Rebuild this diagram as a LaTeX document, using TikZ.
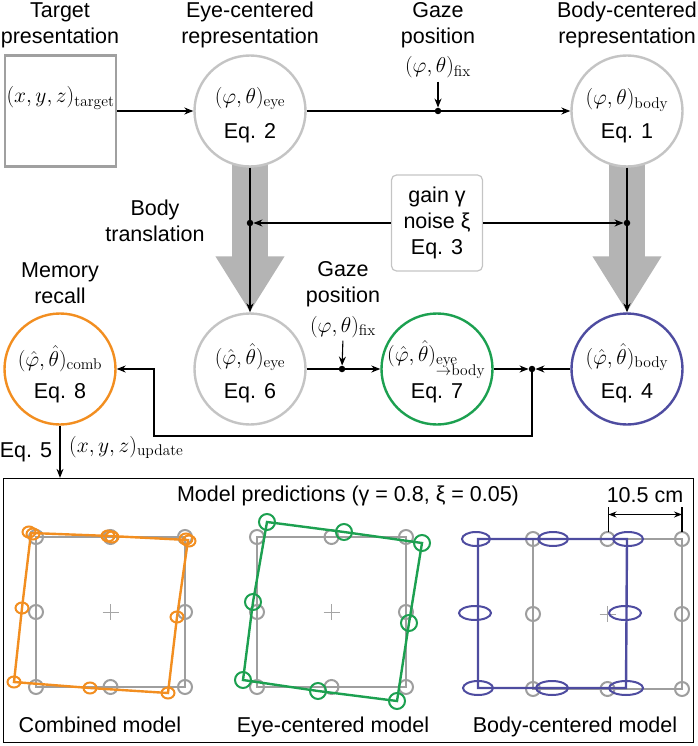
\RequirePackage{fix-cm}
\documentclass[tikz,border=0pt]{standalone}
\usepackage[no-math]{fontspec}
\setmainfont{Liberation Sans}
\usetikzlibrary{arrows.meta,backgrounds,calc}
\DeclareMathSizes{21.5}{21.5}{15.5}{11}
\definecolor{ringgray}{RGB}{196,196,196}
\definecolor{boxgray}{RGB}{160,160,160}
\definecolor{fatgray}{RGB}{180,180,180}
\definecolor{ptgray}{RGB}{158,158,158}
\definecolor{xgray}{RGB}{165,165,165}
\definecolor{orng}{RGB}{242,142,32}
\definecolor{grn}{RGB}{28,160,80}
\definecolor{blu}{RGB}{78,76,160}
\newcommand\refgrid[2]{%
  \draw[refsq] (#1,#2) rectangle ++(149,150);
  \foreach \dx/\dy in {0/0,74.5/0,149/0,0/75,149/75,0/150,74.5/150,149/150}
    \draw[refpt] (#1+\dx,#2+\dy) circle[radius=7pt];
  \draw[cross] (#1+66.5,#2+75) -- ++(16,0) (#1+74.5,#2+67) -- ++(0,16);
}
\begin{document}
\begin{tikzpicture}[x=1pt,y=-1pt,
 lbl/.style={font=\fontsize{21.5}{26}\selectfont, align=center, inner sep=0pt},
 mth/.style={font=\fontsize{21.5}{24}\selectfont, inner sep=0pt},
 ring/.style={circle, draw=ringgray, line width=2.4pt, minimum size=111pt, inner sep=0pt, fill=white},
 conn/.style={line width=1.1pt, -{Stealth[length=9pt,width=7pt]}},
 plainln/.style={line width=1.1pt},
 dot/.style={circle, fill=black, inner sep=0pt, minimum size=6.5pt},
 fat/.style={draw=fatgray, line width=36pt, -{Triangle[length=56pt,width=65pt]}},
 refsq/.style={draw=ptgray, line width=2.4pt},
 refpt/.style={draw=ptgray, line width=2pt},
 cross/.style={draw=xgray, line width=0.9pt},
 orpt/.style={draw=orng, line width=2pt},
 grpt/.style={draw=grn, line width=2pt},
 blpt/.style={draw=blu, line width=2pt},
]
\useasboundingbox (0,0) rectangle (697,746);

% ---------- top row ----------
\node[lbl] (tgtlbl) at (60,25) {Target\\presentation};
\node[lbl] (eyelbl) at (250,25) {Eye-centered\\representation};
\node[lbl] (gazelbl) at (438,25) {Gaze\\position};
\node[lbl] (bodylbl) at (627,25) {Body-centered\\representation};

\node[draw=boxgray, line width=2.4pt, minimum width=111pt, minimum height=111pt, inner sep=0pt] (tgt) at (60.5,111) {};
\node[mth, anchor=base] (tgtm) at (60.5,103) {$(x,y,z)_{\mathrm{target}}$};

\node[ring] (eye) at (250,111) {};
\node[mth, anchor=base] (eyem) at (250,103.5) {$(\varphi,\theta)_{\mathrm{eye}}$};
\node[lbl, anchor=base] (eyeq) at (250,139) {Eq. 2};

\node[ring] (body) at (627,111) {};
\node[mth, anchor=base] (bodym) at (627,105) {$(\varphi,\theta)_{\mathrm{body}}$};
\node[lbl, anchor=base] (bodyq) at (627,139) {Eq. 1};

\node[mth, anchor=base] (fix1) at (438,73) {$(\varphi,\theta)_{\mathrm{fix}}$};
\node[dot] (d1) at (438,111) {};
\draw[conn] (tgt) -- (eye);
\draw[plainln] (eye) -- (d1);
\draw[conn] (d1) -- (body);
\draw[conn, shorten <=3pt] (fix1.south) -- (d1);

% ---------- middle ----------
\node[lbl] (btlbl) at (155,221) {Body\\translation};
\node[draw=ringgray, line width=1.2pt, rounded corners=5pt, minimum width=91pt, minimum height=96pt, lbl] (gain) at (437,223) {gain γ\\noise ξ\\Eq. 3};
\node[dot] (d2) at (250,223) {};
\node[dot] (d3) at (627,223) {};

% ---------- lower row ----------
\node[lbl] (memlbl) at (60,283) {Memory\\recall};
\node[lbl] (gz2lbl) at (343,284) {Gaze\\position};
\node[mth, anchor=base] (fix2) at (343,332) {$(\varphi,\theta)_{\mathrm{fix}}$};

\node[ring, draw=orng] (comb) at (60,369) {};
\node[mth, anchor=base] (combm) at (60,366) {$(\hat\varphi,\hat\theta)_{\mathrm{comb}}$};
\node[lbl, anchor=base] (combq) at (60,398) {Eq. 8};

\node[ring] (eye6) at (250,369) {};
\node[mth, anchor=base] (eye6m) at (250,364) {$(\hat\varphi,\hat\theta)_{\mathrm{eye}}$};
\node[lbl, anchor=base] (eye6q) at (250,398) {Eq. 6};

\node[ring, draw=grn] (e2b) at (437,369) {};
\node[mth, anchor=base west] (e2bm) at (387,361) {$(\hat\varphi,\hat\theta)_{\mathrm{eye}}$};
\node[mth, anchor=base east] (e2bs) at (485,375) {$\scriptstyle\to\mathrm{body}$};
\node[lbl, anchor=base] (e2bq) at (437,398) {Eq. 7};

\node[ring, draw=blu] (blu4) at (627,369) {};
\node[mth, anchor=base] (blu4m) at (627,364) {$(\hat\varphi,\hat\theta)_{\mathrm{body}}$};
\node[lbl, anchor=base] (blu4q) at (627,398) {Eq. 4};

\begin{scope}[on background layer]
\draw[fat] (eye.center) -- (eye6.north);
\draw[fat] (body.center) -- (blu4.north);
\end{scope}
\draw[conn] (eye) -- (eye6);
\draw[conn] (body) -- (blu4);
\draw[conn] (gain) -- (d2);
\draw[conn] (gain) -- (d3);

\node[dot] (d4) at (342,369) {};
\draw[plainln] (eye6) -- (d4);
\draw[conn] (d4) -- (e2b);
\draw[conn, shorten <=3pt] (fix2.south) -- (d4);
\node[dot] (d5) at (532,369) {};
\draw[conn] (e2b) -- (d5);
\draw[conn] (blu4) -- (d5);
\coordinate (c2) at (154,436);
\draw[conn] (d5) |- (c2) |- (comb.east);

% ---------- predictions box ----------
\node[draw=black, line width=1.3pt, minimum width=690pt, minimum height=264pt, inner sep=0pt] (predbox) at (348.5,610.5) {};
\draw[conn] (comb) -- (comb.south |- predbox.north);
\node[lbl, anchor=base] (eq5) at (26,457) {Eq. 5};
\node[mth, anchor=base west] (upd) at (69,452) {$(x,y,z)_{\mathrm{update}}$};

\node[lbl, anchor=base] (ptitle) at (348,501) {Model predictions (γ = 0.8, ξ = 0.05)};

% panel 1: combined
\refgrid{36}{537}
\draw[draw=orng, line width=2.4pt] (31,533) -- (110,536) -- (188,540) -- (177,617) -- (168,693) -- (90,688) -- (14,682) -- (22,608) -- cycle;
\foreach \px/\py in {29/532,33/534,108/536,112/537,186/539,189/541,22/608,177/617,14/682,90/688,168/693}
  \draw[orpt] (\px,\py) ellipse[x radius=6.5pt, y radius=5.5pt];

% panel 2: eye-centered
\refgrid{257}{537}
\draw[draw=grn, line width=2.4pt] (267,522) -- (344,532) -- (422,543) -- (409,623) -- (397,701) -- (318,691) -- (243,680) -- (253,602) -- cycle;
\foreach \px/\py in {267/522,344/532,422/543,253/602,409/623,243/680,318/691,397/701}
  \draw[grpt] (\px,\py) circle[radius=8pt];

% panel 3: body-centered
\refgrid{533}{539}
\draw[draw=blu, line width=2.4pt] (478,539) -- (627,539) -- (626,688) -- (478,688) -- cycle;
\foreach \px/\py/\rx in {476/539/14,553/539/15,628/539/15,475/613/16,625/613/16,478/688/15,552/688/16,626/688/17}
  \draw[blpt] (\px,\py) ellipse[x radius=\rx pt, y radius=7pt];

\node[lbl, anchor=base] (dimlbl) at (645,502) {10.5 cm};
\coordinate (t1a) at (608.5,507); \coordinate (t1b) at (608.5,532);
\coordinate (t2a) at (682,507); \coordinate (t2b) at (682,532);
\draw[plainln] (t1a) -- (t1b);
\draw[plainln] (t2a) -- (t2b);
\draw[line width=1.1pt, {Stealth[length=8pt,width=6pt]}-{Stealth[length=8pt,width=6pt]}] ($(t1a)!0.3!(t1b)$) -- ($(t2a)!0.3!(t2b)$);

\node[lbl, anchor=base] (lab1) at (100,732) {Combined model};
\node[lbl, anchor=base] (lab2) at (333,732) {Eye-centered model};
\node[lbl, anchor=base] (lab3) at (575,732) {Body-centered model};
\end{tikzpicture}
\end{document}
